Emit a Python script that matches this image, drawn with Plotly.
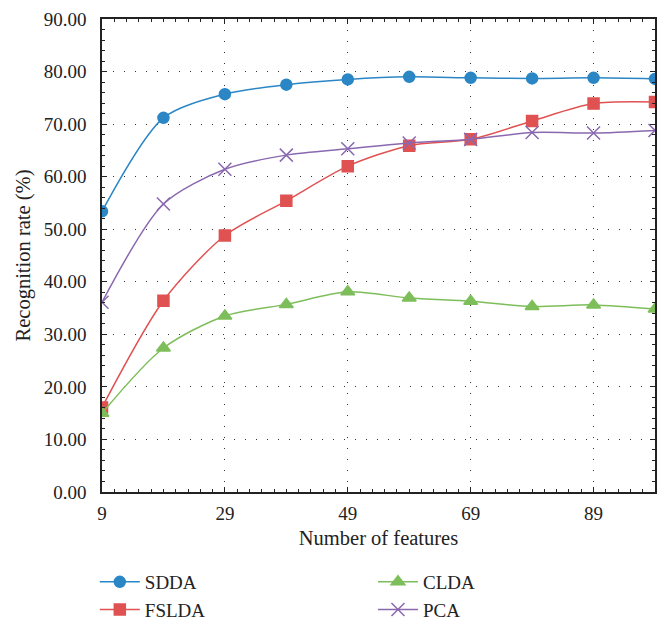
import plotly.graph_objects as go

features = [9, 19, 29, 39, 49, 59, 69, 79, 89, 99]
sdda = [53.4, 71.2, 75.7, 77.5, 78.5, 79.0, 78.8, 78.7, 78.8, 78.6]
fslda = [16.1, 36.4, 48.8, 55.4, 62.0, 65.9, 67.1, 70.6, 73.9, 74.2]
clda = [15.0, 27.4, 33.5, 35.7, 38.1, 36.9, 36.3, 35.3, 35.6, 34.8]
pca = [36.1, 54.8, 61.4, 64.1, 65.3, 66.4, 67.1, 68.4, 68.3, 68.8]
x_ticks = [9, 29, 49, 69, 89]
y_ticks = [0, 10, 20, 30, 40, 50, 60, 70, 80, 90]

FONT = "Liberation Serif"
INK = "#222"
series = [
    ("SDDA", sdda, "#2b86c5", "circle", 11, "legend"),
    ("FSLDA", fslda, "#e05252", "square", 11, "legend"),
    ("CLDA", clda, "#7dbe5a", "triangle-up", 12, "legend2"),
    ("PCA", pca, "#8a68b0", "x-thin-open", 13, "legend2"),
]

fig = go.Figure()
for name, vals, col, sym, size, leg in series:
    fig.add_trace(go.Scatter(
        x=features, y=vals, name=name, mode="lines+markers",
        line=dict(color=col, width=1.5, shape="spline", smoothing=0.8),
        marker=dict(symbol=sym, size=size, color=col,
                    line=dict(color=col, width=1.5)),
        legend=leg,
    ))

axis_common = dict(
    showline=True, linecolor=INK, linewidth=1.5, mirror="allticks",
    ticks="inside", ticklen=5, tickcolor=INK,
    showgrid=True, gridcolor="#333", gridwidth=1, griddash="1px,10px",
    zeroline=False, automargin=False, ticklabeloverflow="allow",
    tickfont=dict(family=FONT, size=19, color=INK),
    title_font=dict(family=FONT, size=20.5, color=INK),
)

fig.update_xaxes(
    range=[9, 99], tickvals=x_ticks, ticktext=[str(v) for v in x_ticks],
    minor=dict(ticks="inside", ticklen=3, dtick=2, tick0=9, tickcolor=INK, showgrid=False),
    title_text="Number of features", title_standoff=8, ticklabelstandoff=3,
    **axis_common,
)
fig.update_yaxes(
    range=[0, 90], tickvals=y_ticks, tickformat=".2f",
    minor=dict(ticks="inside", ticklen=3, dtick=2, tickcolor=INK, showgrid=False),
    title_text="Recognition rate (%)", title_standoff=8, ticklabelstandoff=10,
    **axis_common,
)

legend_common = dict(
    font=dict(family=FONT, size=19, color=INK),
    bgcolor="rgba(0,0,0,0)", orientation="v",
    xanchor="left", yanchor="top", tracegroupgap=0, itemwidth=40,
)
# page body adds an 8px offset, so the figure is 8px smaller and shifted
fig.update_layout(
    width=664, height=612,
    margin=dict(l=94, r=17, t=10.5, b=128, autoexpand=False),
    plot_bgcolor="white", paper_bgcolor="white",
    legend=dict(x=-0.013, y=-0.15, **legend_common),
    legend2=dict(x=0.49, y=-0.15, **legend_common),
    showlegend=True,
)

fig.write_html("out.html")
